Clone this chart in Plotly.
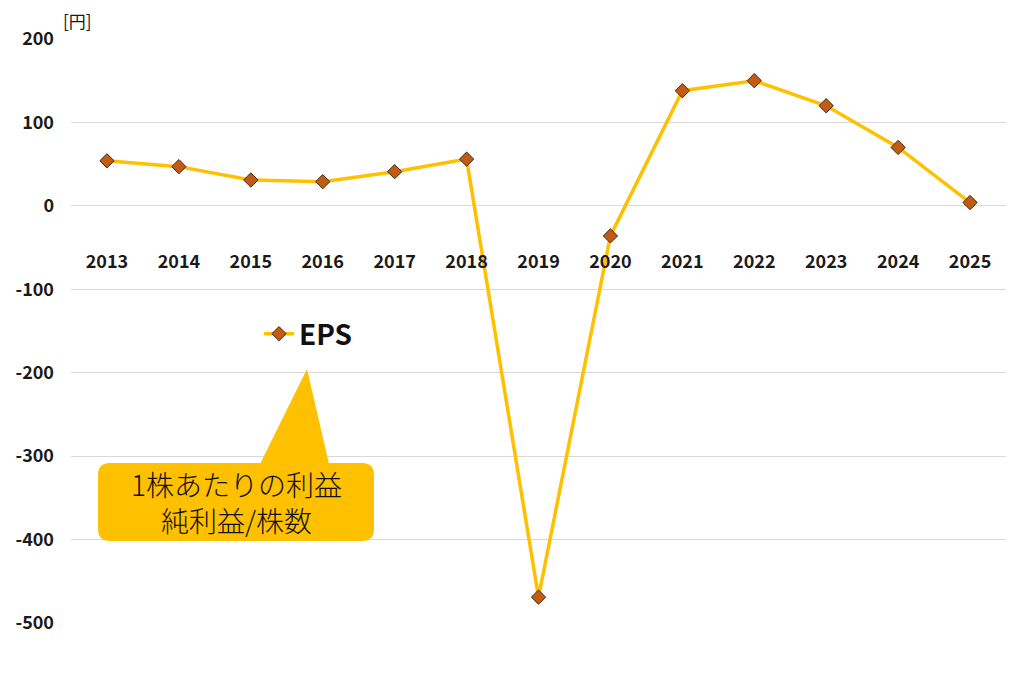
import plotly.graph_objects as go

years = ["2013", "2014", "2015", "2016", "2017", "2018", "2019",
         "2020", "2021", "2022", "2023", "2024", "2025"]
eps = [54, 47, 31, 29, 41, 56, -469, -36, 138, 150, 120, 70, 4]
y_ticks = [200, 100, 0, -100, -200, -300, -400, -500]
y_tick_text = [str(v) for v in y_ticks]
series_name = "EPS"
unit_label = "[円]"
callout_text = "1株あたりの利益<br>純利益/株数"

FONT = "Noto Sans CJK JP"
GOLD = "#FFC000"
OFF = 7  # page offset of the figure in the browser

fig = go.Figure()
fig.add_trace(go.Scatter(
    x=years, y=eps, mode="lines+markers", name=series_name,
    line=dict(color=GOLD, width=3.5),
    marker=dict(symbol="diamond", size=11, color="#C55A11",
                line=dict(color="#3a2a1a", width=1)),
))

# target plot area in screenshot pixels
PL, PR, PT, PB = 70, 1005, 38, 622
L, T = PL - OFF, PT - OFF
R = 1024 - (PR - OFF)
B = 700 - (PB - OFF)
W, H = PR - PL, PB - PT

def px(xp):
    return (xp - PL) / W

def py(yp):
    return (PB - yp) / H

# callout box (rounded) and pointer
x0, x1, y0, y1 = 97, 373, 462, 540
r = 12
path = (f"M {px(x0 + r)},{py(y0)} L {px(x1 - r)},{py(y0)} "
        f"Q {px(x1)},{py(y0)} {px(x1)},{py(y0 + r)} "
        f"L {px(x1)},{py(y1 - r)} Q {px(x1)},{py(y1)} {px(x1 - r)},{py(y1)} "
        f"L {px(x0 + r)},{py(y1)} Q {px(x0)},{py(y1)} {px(x0)},{py(y1 - r)} "
        f"L {px(x0)},{py(y0 + r)} Q {px(x0)},{py(y0)} {px(x0 + r)},{py(y0)} Z")
tri = f"M {px(259)},{py(463)} L {px(306)},{py(368)} L {px(328)},{py(463)} Z"

fig.update_layout(
    width=1024, height=700,
    margin=dict(l=L, r=R, t=T, b=B, autoexpand=False),
    paper_bgcolor="white", plot_bgcolor="white",
    font=dict(family=FONT, color="#1a1a1a"),
    showlegend=True,
    legend=dict(x=px(258), y=py(333), xanchor="left", yanchor="middle",
                bgcolor="rgba(0,0,0,0)",
                font=dict(size=28, family=FONT, weight="bold", color="#111")),
    xaxis=dict(
        type="category", range=[-0.5, 12.5],
        anchor="free", position=500 / 700, automargin=False,
        showgrid=False, showline=False, zeroline=False,
        ticks="outside", ticklen=40, tickcolor="rgba(0,0,0,0)",
        tickfont=dict(size=18, family=FONT, weight="bold", color="#1a1a1a"),
    ),
    yaxis=dict(
        range=[-500, 200], tickvals=y_ticks, ticktext=y_tick_text,
        automargin=False,
        showgrid=True, gridcolor="#d9d9d9", gridwidth=1,
        zeroline=True, zerolinecolor="#d9d9d9", zerolinewidth=1,
        showline=False, ticklabelstandoff=16,
        tickfont=dict(size=18, family=FONT, weight="bold", color="#1a1a1a"),
    ),
    shapes=[
        dict(type="path", path=tri, xref="paper", yref="paper",
             fillcolor=GOLD, line=dict(width=0), layer="above"),
        dict(type="path", path=path, xref="paper", yref="paper",
             fillcolor=GOLD, line=dict(width=0), layer="above"),
    ],
    annotations=[
        dict(text=unit_label, xref="paper", yref="paper",
             x=px(60), y=py(19), xanchor="left", yanchor="middle",
             showarrow=False, font=dict(size=17, family=FONT, color="#1a1a1a")),
        dict(text=callout_text, xref="paper", yref="paper",
             x=px(235), y=py(501), xanchor="center", yanchor="middle",
             showarrow=False, align="center",
             font=dict(size=28, family=FONT, weight=300, color="#111")),
    ],
)

fig.write_html("out.html")
